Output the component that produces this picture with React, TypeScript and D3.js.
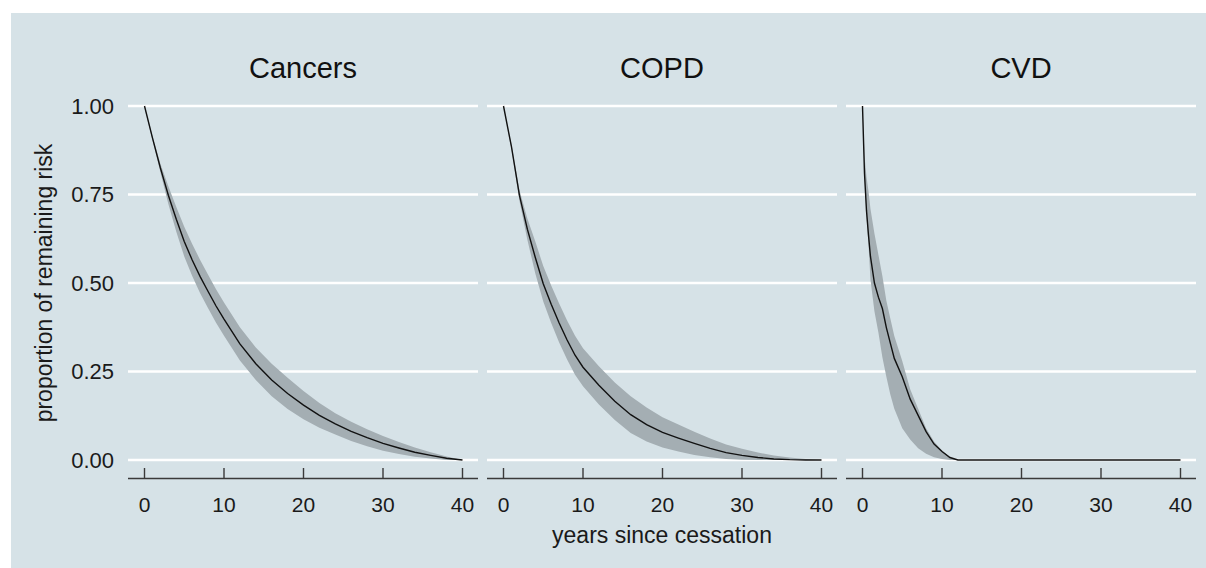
import React, { useEffect, useRef } from 'react';
import * as d3 from 'd3';

// panel titles
const panelNames = ['Cancers', 'COPD', 'CVD'];

// years since cessation, per panel
const cancerYears = [0, 1, 2, 3, 4, 5, 6, 7, 8, 9, 10, 12, 14, 16, 18, 20, 22, 24, 26, 28, 30, 32, 34, 36, 38, 40];
const cancerRisk = [1.0, 0.91, 0.825, 0.748, 0.68, 0.617, 0.565, 0.518, 0.476, 0.435, 0.398, 0.328, 0.272, 0.226, 0.188, 0.155, 0.126, 0.102, 0.081, 0.063, 0.047, 0.034, 0.022, 0.013, 0.005, 0];
const cancerHi = [1.0, 0.915, 0.837, 0.773, 0.715, 0.659, 0.61, 0.565, 0.523, 0.482, 0.445, 0.375, 0.318, 0.272, 0.232, 0.195, 0.161, 0.132, 0.108, 0.087, 0.068, 0.051, 0.035, 0.022, 0.01, 0];
const cancerLo = [1.0, 0.905, 0.813, 0.723, 0.645, 0.575, 0.52, 0.471, 0.429, 0.388, 0.351, 0.281, 0.226, 0.18, 0.144, 0.115, 0.091, 0.072, 0.054, 0.039, 0.026, 0.017, 0.009, 0.004, 0, 0];

const copdYears = [0, 1, 2, 3, 4, 5, 6, 7, 8, 9, 10, 12, 14, 16, 18, 20, 22, 24, 26, 28, 30, 32, 34, 36, 38, 40];
const copdRisk = [1.0, 0.885, 0.748, 0.652, 0.572, 0.498, 0.44, 0.387, 0.339, 0.296, 0.262, 0.211, 0.166, 0.128, 0.1, 0.078, 0.062, 0.047, 0.033, 0.021, 0.013, 0.007, 0.003, 0.001, 0, 0];
const copdHi = [1.0, 0.891, 0.763, 0.682, 0.617, 0.548, 0.493, 0.442, 0.394, 0.351, 0.316, 0.265, 0.219, 0.18, 0.148, 0.121, 0.1, 0.08, 0.061, 0.044, 0.032, 0.021, 0.013, 0.007, 0.003, 0];
const copdLo = [1.0, 0.879, 0.733, 0.622, 0.527, 0.448, 0.387, 0.332, 0.284, 0.241, 0.208, 0.157, 0.113, 0.076, 0.052, 0.035, 0.024, 0.014, 0.008, 0.003, 0.001, 0, 0, 0, 0, 0];

const cvdYears = [0, 0.25, 0.5, 0.75, 1, 1.5, 2, 2.5, 3, 3.5, 4, 5, 6, 7, 8, 9, 10, 11, 12, 40];
const cvdRisk = [1.0, 0.81, 0.705, 0.636, 0.575, 0.5, 0.46, 0.428, 0.374, 0.33, 0.287, 0.235, 0.172, 0.126, 0.08, 0.045, 0.024, 0.007, 0, 0];
const cvdHi = [1.0, 0.86, 0.8, 0.76, 0.71, 0.64, 0.58, 0.52, 0.45, 0.4, 0.35, 0.28, 0.2, 0.145, 0.09, 0.052, 0.027, 0.008, 0, 0];
const cvdLo = [1.0, 0.8, 0.69, 0.61, 0.51, 0.42, 0.36, 0.29, 0.235, 0.185, 0.145, 0.09, 0.058, 0.033, 0.018, 0.008, 0.003, 0, 0, 0];

// axis ticks
const xTicks = [0, 10, 20, 30, 40];
const yTicks = [0, 0.25, 0.5, 0.75, 1];

const series = [
  { years: cancerYears, risk: cancerRisk, hi: cancerHi, lo: cancerLo },
  { years: copdYears, risk: copdRisk, hi: copdHi, lo: copdLo },
  { years: cvdYears, risk: cvdRisk, hi: cvdHi, lo: cvdLo },
];

const FONT = '"Liberation Sans", Arial, sans-serif';

export default function App() {
  const svgRef = useRef<SVGSVGElement>(null);

  useEffect(() => {
    if (!svgRef.current) return;
    const svg = d3.select(svgRef.current);
    svg.selectAll('*').remove();

    const width = 1206;
    const height = 568;

    svg.append('rect').attr('width', width).attr('height', height).attr('fill', '#ffffff');
    svg.append('rect')
      .attr('x', 11).attr('y', 13)
      .attr('width', width - 11).attr('height', height - 13)
      .attr('fill', '#D6E2E7');

    const panelLeft = [128, 487, 846];
    const panelW = 350;
    const axisY = 478.5;

    const yScale = d3.scaleLinear().domain([0, 1]).range([460, 106]);

    series.forEach((s, i) => {
      const left = panelLeft[i];
      const g = svg.append('g');
      const xScale = d3.scaleLinear().domain([0, 40]).range([left + 16.5, left + 334.5]);

      // grid lines
      g.selectAll('.grid')
        .data(yTicks)
        .enter()
        .append('line')
        .attr('x1', left)
        .attr('x2', left + panelW)
        .attr('y1', d => yScale(d))
        .attr('y2', d => yScale(d))
        .attr('stroke', '#ffffff')
        .attr('stroke-width', 2.6);

      const pts = s.years.map((t, k) => ({ t, v: s.risk[k], hi: s.hi[k], lo: s.lo[k] }));

      // confidence band
      const area = d3.area<typeof pts[number]>()
        .x(d => xScale(d.t))
        .y0(d => yScale(d.lo))
        .y1(d => yScale(d.hi));
      g.append('path')
        .datum(pts)
        .attr('d', area)
        .attr('fill', '#A4AEB3');

      // estimate line
      const line = d3.line<typeof pts[number]>()
        .x(d => xScale(d.t))
        .y(d => yScale(d.v));
      g.append('path')
        .datum(pts)
        .attr('d', line)
        .attr('fill', 'none')
        .attr('stroke', '#111111')
        .attr('stroke-width', 1.4);

      // x axis
      g.append('line')
        .attr('x1', left).attr('x2', left + panelW)
        .attr('y1', axisY).attr('y2', axisY)
        .attr('stroke', '#3a3a3a').attr('stroke-width', 1.4);
      g.selectAll('.tick')
        .data(xTicks)
        .enter()
        .append('line')
        .attr('x1', d => xScale(d)).attr('x2', d => xScale(d))
        .attr('y1', axisY - 10.5).attr('y2', axisY)
        .attr('stroke', '#3a3a3a').attr('stroke-width', 1.4);
      g.selectAll('.ticklabel')
        .data(xTicks)
        .enter()
        .append('text')
        .attr('x', d => xScale(d))
        .attr('y', 512)
        .attr('text-anchor', 'middle')
        .attr('font-family', FONT)
        .attr('font-size', 21)
        .attr('fill', '#1a1a1a')
        .text(d => String(d));

      // panel title
      g.append('text')
        .attr('x', left + panelW / 2)
        .attr('y', 78)
        .attr('text-anchor', 'middle')
        .attr('font-family', FONT)
        .attr('font-size', 29)
        .attr('fill', '#111111')
        .text(panelNames[i]);
    });

    // y tick labels
    svg.selectAll('.ylabel')
      .data(yTicks)
      .enter()
      .append('text')
      .attr('x', 114)
      .attr('y', d => yScale(d))
      .attr('dy', '0.36em')
      .attr('text-anchor', 'end')
      .attr('font-family', FONT)
      .attr('font-size', 22)
      .attr('fill', '#1a1a1a')
      .text(d => d3.format('.2f')(d));

    // axis titles
    svg.append('text')
      .attr('transform', `translate(52,${yScale(0.5)}) rotate(-90)`)
      .attr('text-anchor', 'middle')
      .attr('font-family', FONT)
      .attr('font-size', 23)
      .attr('fill', '#1a1a1a')
      .text('proportion of remaining risk');

    svg.append('text')
      .attr('x', 662)
      .attr('y', 543)
      .attr('text-anchor', 'middle')
      .attr('font-family', FONT)
      .attr('font-size', 23)
      .attr('fill', '#1a1a1a')
      .text('years since cessation');
  }, []);

  return (
    <svg
      ref={svgRef}
      width={1206}
      height={568}
      style={{ position: 'absolute', left: 0, top: 0, display: 'block' }}
    />
  );
}
